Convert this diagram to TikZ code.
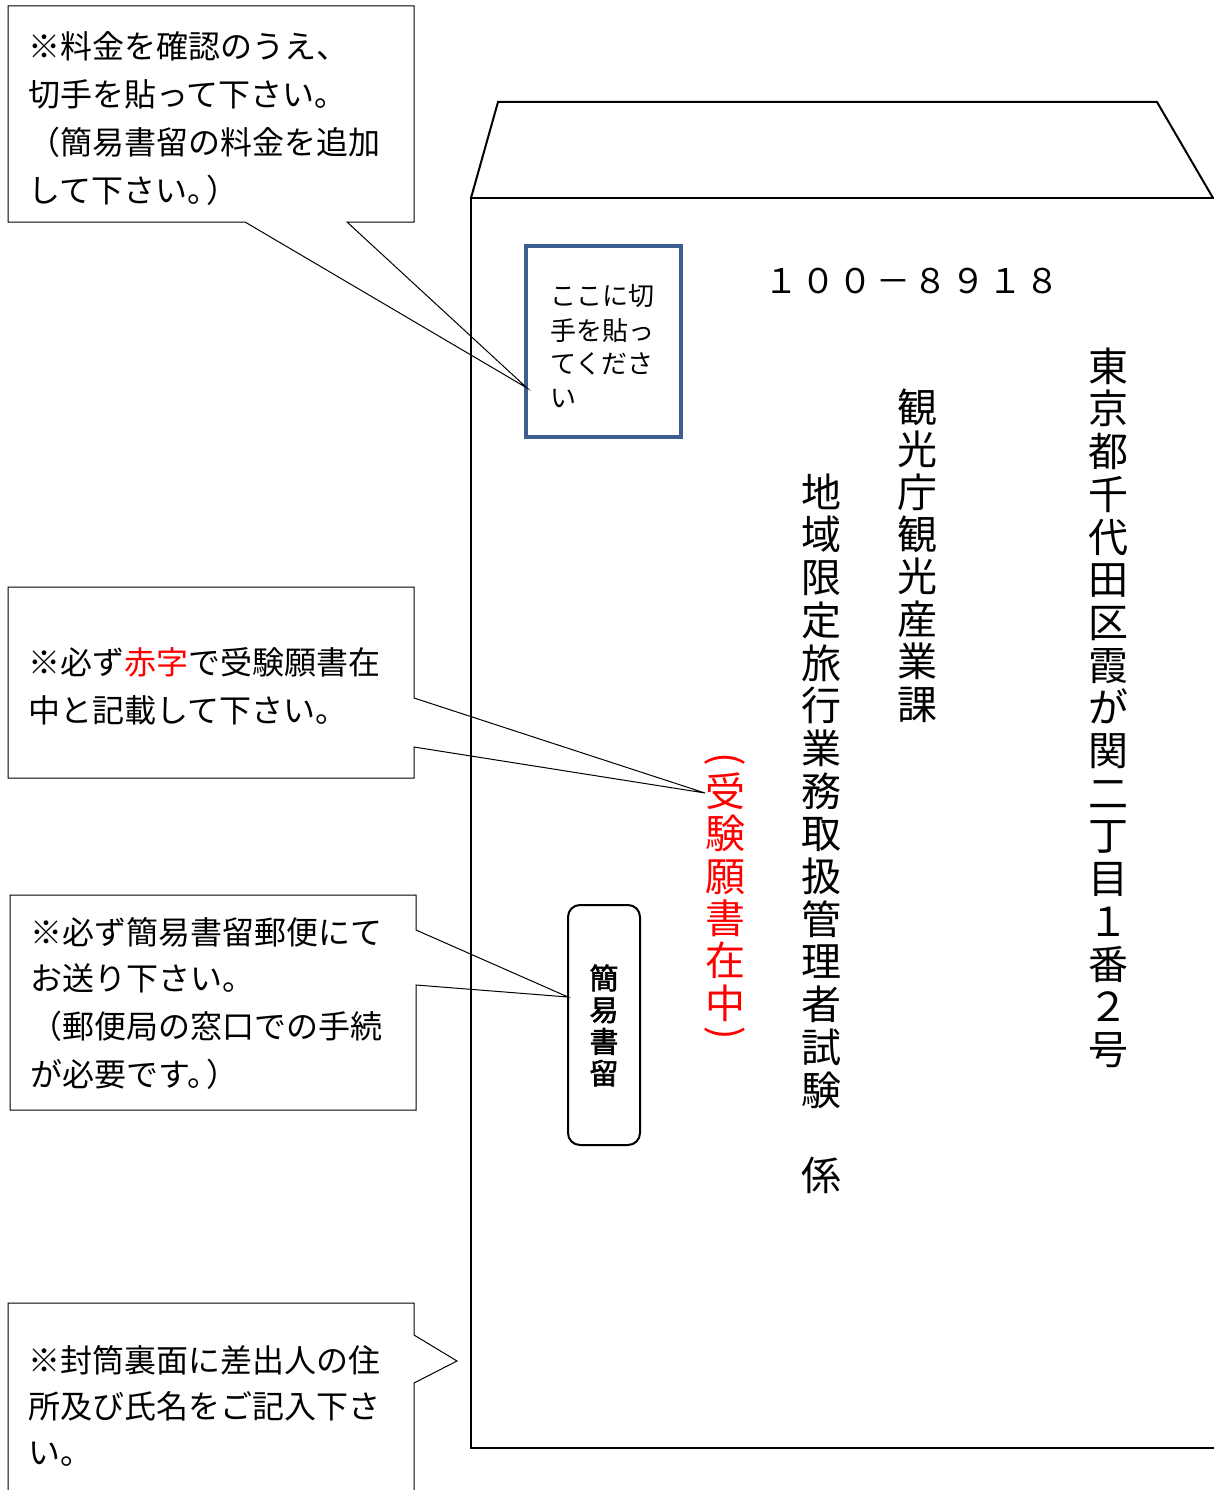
\documentclass[tikz,border=0pt]{standalone}
\usepackage{fontspec}
\setmainfont{Noto Sans CJK JP}[AutoFakeBold=2]
\definecolor{stampblue}{HTML}{3C5F8F}
\definecolor{pured}{HTML}{FF0000}
\begin{document}
\begin{tikzpicture}[x=1pt,y=-1pt,
  callout/.style={draw=black,line width=1pt,line join=miter},
  envline/.style={draw=black,line width=2pt,line join=miter},
  ctext/.style={anchor=base west,inner sep=0pt,font=\fontsize{32}{48}\selectfont},
  stext/.style={anchor=base west,inner sep=0pt,font=\fontsize{26}{34}\selectfont},
  vch/.style={anchor=base,inner sep=0pt,font=\fontsize{40}{48}\selectfont},
  kch/.style={anchor=base,inner sep=0pt,font=\fontsize{29}{32}\selectfont\bfseries},
  pch/.style={anchor=base,inner sep=0pt,font=\fontsize{34}{40}\selectfont},
  vparen/.style={anchor=center,inner sep=0pt,rotate=-90,text=pured,font=\fontsize{40}{48}\selectfont}]
\useasboundingbox (0,0) rectangle (1214,1490);
\fill[white] (0,0) rectangle (1214,1490);

% envelope
\draw[envline] (471,198) -- (498,102) -- (1157,102) -- (1213,198);
\draw[envline] (1214,198) -- (471,198) -- (471,1448) -- (1214,1448);

% stamp box
\node[draw=stampblue,line width=4pt,minimum width=155pt,minimum height=191pt,inner sep=0pt] (stamp) at (603.5,341.5) {};
\node[stext] (s1) at (550,305) {ここに切};
\node[stext] (s2) at (550,340) {手を貼っ};
\node[stext] (s3) at (550,373) {てくださ};
\node[stext] (s4) at (550,407) {い};

% postal code
\foreach \c [count=\i] in {１,０,０,－,８,９,１,８}
  \node[pch] (pc\i) at ({781+(\i-1)*37.4},{281+12.9}) {\c};

% address
\foreach \c [count=\i] in {東,京,都,千,代,田,区,霞,が,関,二,丁,目,１,番,２,号}
  \node[vch] (ad\i) at (1108,{366+15.2+(\i-1)*42.7}) {\c};
\foreach \c [count=\i] in {観,光,庁,観,光,産,業,課}
  \node[vch] (dp\i) at (917,{407+15.2+(\i-1)*42.4}) {\c};
\foreach \c [count=\i] in {地,域,限,定,旅,行,業,務,取,扱,管,理,者,試,験}
  \node[vch] (nm\i) at (821,{492+15.2+(\i-1)*42.7}) {\c};
\node[vch] (nm17) at (821,{492+15.2+16*42.7}) {係};

% red note
\node[vparen] (rp1) at (725,759) {(};
\foreach \c [count=\i] in {受,験,願,書,在,中}
  \node[vch,text=pured] (rd\i) at (725,{791+15.2+(\i-1)*42.4}) {\c};
\node[vparen] (rp2) at (725,1033) {)};

% kan-i kakitome box
\node[draw=black,line width=2pt,rounded corners=12pt,minimum width=72pt,minimum height=240pt,inner sep=0pt] (kbox) at (604,1025) {};
\foreach \c [count=\i] in {簡,易,書,留}
  \node[kch] (kk\i) at (604,{978+11+(\i-1)*31.7}) {\c};

% tips
\coordinate (t1) at (527,388);
\coordinate (t2) at (705,793);
\coordinate (t3) at (568,997);
\coordinate (t4) at (457,1361);

% callout 1
\draw[callout] (8,6) -- (414,6) -- (414,222) -- (347,222) -- (t1) -- (245,222) -- (8,222) -- cycle;
\node[ctext] (c1a) at (28,59) {※料金を確認のうえ、};
\node[ctext] (c1b) at (28,107) {切手を貼って下さい。};
\node[ctext] (c1c) at (28,155) {（簡易書留の料金を追加};
\node[ctext] (c1d) at (28,202) {して下さい。\kern-13pt）};

% callout 2
\draw[callout] (8,587) -- (414,587) -- (414,698) -- (t2) -- (414,747) -- (414,778) -- (8,778) -- cycle;
\node[ctext] (c2a) at (28,674) {※必ず\textcolor{pured}{赤字}で受験願書在};
\node[ctext] (c2b) at (28,722) {中と記載して下さい。};

% callout 3
\draw[callout] (10,895) -- (416,895) -- (416,930) -- (t3) -- (416,985) -- (416,1110) -- (10,1110) -- cycle;
\node[ctext] (c3a) at (30,944) {※必ず簡易書留郵便にて};
\node[ctext] (c3b) at (30,990) {お送り下さい。};
\node[ctext] (c3c) at (30,1038) {（郵便局の窓口での手続};
\node[ctext] (c3d) at (30,1086) {が必要です。\kern-13pt）};

% callout 4
\draw[callout] (8,1500) -- (8,1303) -- (414,1303) -- (414,1335) -- (t4) -- (414,1383) -- (414,1500);
\node[ctext] (c4a) at (28,1372) {※封筒裏面に差出人の住};
\node[ctext] (c4b) at (28,1418) {所及び氏名をご記入下さ};
\node[ctext] (c4c) at (28,1464) {い。};
\end{tikzpicture}
\end{document}
